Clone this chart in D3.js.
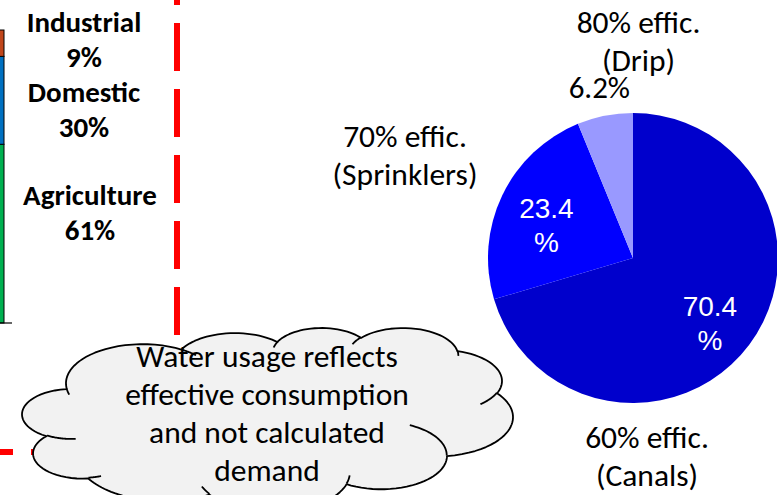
<!DOCTYPE html>
<html>
<head>
<meta charset="utf-8">
<script src="https://cdn.jsdelivr.net/npm/d3@7"></script>
<style>
  body { margin: 0; background: #fff; }
  svg { display: block; }
</style>
</head>
<body>
<script>
// water use by sector (the stacked bar is cut off at the left edge)
const sectors = ["Agriculture", "Domestic", "Industrial"];
const sectorShare = [61, 30, 9];
const sectorColors = ["#00B050", "#0070C0", "#C0461B"];

// agricultural water by irrigation method
const methods = ["(Canals)", "(Sprinklers)", "(Drip)"];
const methodShare = [70.4, 23.4, 6.2];
const methodEffic = ["60% effic.", "70% effic.", "80% effic."];
const methodColors = ["#0000CC", "#0000FF", "#9999FF"];

const cloudLines = ["Water usage reflects", "effective consumption", "and not calculated", "demand"];

const width = 777, height = 495;
const calibri = "Carlito, Lato, 'Liberation Sans', sans-serif";

const svg = d3.select("body").append("svg")
    .attr("width", width).attr("height", height);

// ---- stacked bar
const y = d3.scaleLinear().domain([0, 100]).range([323, 30]);
const row = {};
sectors.forEach((s, i) => row[s] = sectorShare[i]);
const stack = d3.stack().keys(sectors)([row]);

svg.append("g").selectAll("rect")
    .data(stack)
  .enter().append("rect")
    .attr("x", -80)
    .attr("width", 84)
    .attr("y", d => y(d[0][1]))
    .attr("height", d => y(d[0][0]) - y(d[0][1]))
    .style("fill", (d, i) => sectorColors[i])
    .style("stroke", "#000")
    .style("stroke-width", 1);

svg.append("line")
    .attr("x1", 0).attr("x2", 12)
    .attr("y1", y(0)).attr("y2", y(0))
    .style("stroke", "#000").style("stroke-width", 1.2);

// sector labels (text boxes placed next to the bar)
const sectorLabelX = [90, 84, 84];
const sectorLabelY = [205, 101.7, 31.7];
const sLab = svg.append("g")
    .style("font-family", calibri)
    .style("font-weight", "bold")
    .style("font-size", "29px")
    .attr("text-anchor", "middle");
sectors.forEach((s, i) => {
  const t = sLab.append("text").attr("x", sectorLabelX[i]).attr("y", sectorLabelY[i]);
  t.append("tspan").attr("x", sectorLabelX[i]).text(s);
  t.append("tspan").attr("x", sectorLabelX[i]).attr("dy", 35).text(sectorShare[i] + "%");
});

// ---- red dashed divider (behind the cloud)
svg.append("line")
    .attr("x1", 177).attr("x2", 177).attr("y1", 0).attr("y2", 452)
    .style("stroke", "#FF0000").style("stroke-width", 6)
    .style("stroke-dasharray", "48,18").style("stroke-dashoffset", 43);
svg.append("line")
    .attr("x1", 0).attr("x2", 177).attr("y1", 452).attr("y2", 452)
    .style("stroke", "#FF0000").style("stroke-width", 6)
    .style("stroke-dasharray", "48,18").style("stroke-dashoffset", 35);

// ---- pie
const cx = 633, cy = 258, R = 145;
const pie = d3.pie().sort(null).value(d => d);
const arcs = pie(methodShare);
const arc = d3.arc().innerRadius(0).outerRadius(R);
const inLab = d3.arc().innerRadius(96).outerRadius(96);
const outLab = d3.arc().innerRadius(174).outerRadius(174);

const pg = svg.append("g").attr("transform", `translate(${cx},${cy})`);
pg.selectAll("path")
    .data(arcs)
  .enter().append("path")
    .attr("d", arc)
    .style("fill", (d, i) => methodColors[i]);

const fmt = d3.format(".1f");
arcs.forEach((d, i) => {
  if (i < 2) {
    const c = inLab.centroid(d);
    const t = pg.append("text")
        .attr("text-anchor", "middle")
        .style("font-family", "'Liberation Sans', Arial, sans-serif")
        .style("font-size", "28px")
        .style("fill", "#fff")
        .attr("y", c[1] + 1);
    t.append("tspan").attr("x", c[0]).text(fmt(d.data));
    t.append("tspan").attr("x", c[0]).attr("dy", 34).text("%");
  } else {
    const c = outLab.centroid(d);
    pg.append("text")
        .attr("text-anchor", "middle")
        .style("font-family", calibri)
        .style("font-size", "31px")
        .attr("x", c[0]).attr("y", c[1] + 11)
        .text(fmt(d.data) + "%");
  }
});

// method captions
const methodLabelX = [647, 405, 638.5];
const methodLabelY = [448, 146.7, 33];
const mLab = svg.append("g")
    .style("font-family", calibri)
    .style("font-size", "31.5px")
    .attr("text-anchor", "middle");
methods.forEach((m, i) => {
  const t = mLab.append("text").attr("y", methodLabelY[i]);
  t.append("tspan").attr("x", methodLabelX[i]).text(methodEffic[i]);
  t.append("tspan").attr("x", methodLabelX[i]).attr("dy", 38).text(m);
});

// ---- cloud callout (PowerPoint cloud geometry, 43200 units)
const outline = [[3900, 14370],
  [6753, 9190, -11429249, 7426832], [5333, 7267, -8646143, 5396714],
  [4365, 5945, -8748475, 5983381], [4857, 6595, -7859164, 7034504],
  [5333, 7273, -4722533, 6541615], [6775, 9220, -2776035, 7816140],
  [5785, 7867, 37501, 6842000], [6752, 9215, 1347096, 6910353],
  [7720, 10543, 3974558, 4542661], [4360, 5918, -16496525, 8804134],
  [4345, 5945, -14809710, 9151170]];
const creases = [
  [[4693, 26177], [4345, 5945, 5204520, 1585770]],
  [[6928, 34899], [4360, 5918, 4416628, 686848]],
  [[16478, 39090], [6752, 9215, 8257449, 844866]],
  [[28827, 34751], [6752, 9215, 387196, 959901]],
  [[34129, 22954], [5785, 7867, -4217541, 4255042]],
  [[41798, 15354], [5333, 7273, 1819082, 1665090]],
  [[38324, 5426], [4857, 6595, -824660, 891534]],
  [[29078, 3952], [4857, 6595, -8950887, 1091722]],
  [[22141, 4720], [4365, 5945, -9809656, 1061181]],
  [[14000, 5192], [6753, 9190, -4002417, 739161]],
  [[4127, 15789], [6753, 9190, 9459261, 711490]]];

function arcTo(pt, seg, out) {
  const [wR, hR, st, sw] = seg;
  const rad = a => a / 60000 * Math.PI / 180;
  const par = a => Math.atan2(wR * Math.sin(a), hR * Math.cos(a));
  const a1 = rad(st), a2 = rad(st + sw);
  const t1 = par(a1);
  const ox = pt[0] - wR * Math.cos(t1), oy = pt[1] - hR * Math.sin(t1);
  let p = pt;
  for (let k = 1; k <= 30; k++) {
    const t = par(a1 + (a2 - a1) * k / 30);
    p = [ox + wR * Math.cos(t), oy + hR * Math.sin(t)];
    out.push(p);
  }
  return p;
}

let cur = outline[0];
const cloudPts = [cur];
outline.slice(1).forEach(seg => { cur = arcTo(cur, seg, cloudPts); });
const creasePts = creases.map(c => { const pts = [c[0]]; arcTo(c[0], c[1], pts); return pts; });

const cloudLeft = 22, cloudRight = 513, cloudTop = 328, cloudH = 184;
const ext = d3.extent(cloudPts, p => p[0]);
const topY = d3.min(cloudPts, p => p[1]);
const sx = d3.scaleLinear().domain(ext).range([cloudLeft, cloudRight]);
const sy = d3.scaleLinear().domain([topY, topY + 43200]).range([cloudTop, cloudTop + cloudH]);
const line = d3.line().x(p => sx(p[0])).y(p => sy(p[1]));

const cg = svg.append("g");
cg.append("path")
    .attr("d", line(cloudPts) + "Z")
    .style("fill", "#F2F2F2")
    .style("stroke", "#000")
    .style("stroke-width", 1.8)
    .style("stroke-linejoin", "round");
creasePts.forEach(pts => {
  cg.append("path")
      .attr("d", line(pts))
      .style("fill", "none")
      .style("stroke", "#000")
      .style("stroke-width", 1.8);
});

const ct = cg.append("text")
    .attr("text-anchor", "middle")
    .style("font-family", calibri)
    .style("font-size", "31.5px")
    .attr("y", 366.7);
cloudLines.forEach((l, i) => {
  ct.append("tspan").attr("x", 267).attr("dy", i ? 38 : 0).text(l);
});
</script>
</body>
</html>
